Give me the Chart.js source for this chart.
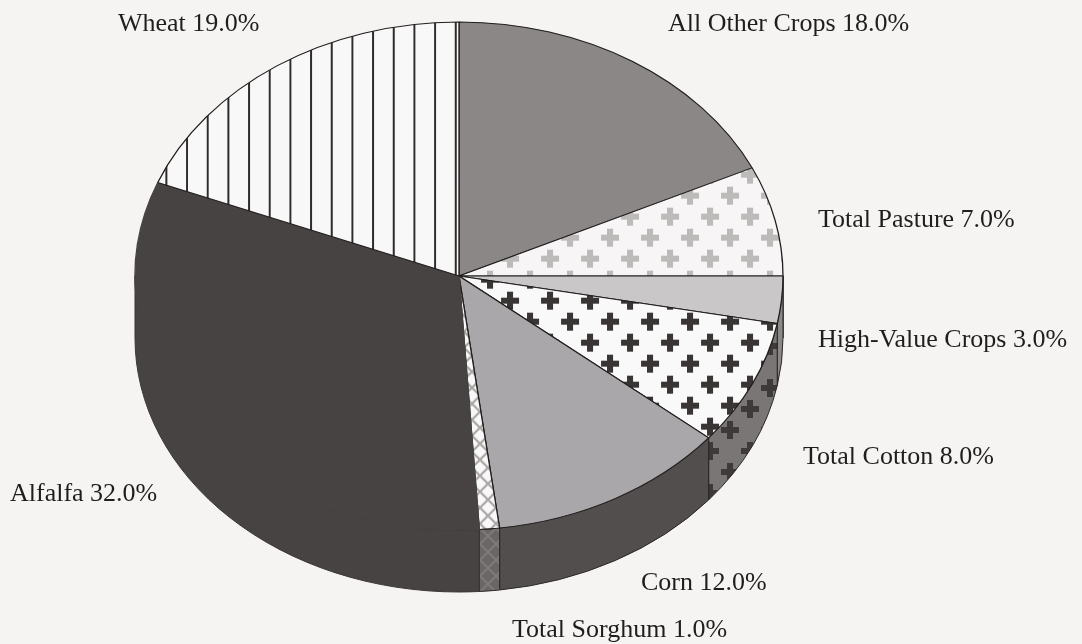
<!DOCTYPE html>
<html>
<head>
<meta charset="utf-8">
<script src="https://cdn.jsdelivr.net/npm/chart.js@4.4.1/dist/chart.umd.min.js"></script>
<style>
  html, body { margin: 0; padding: 0; background: #f6f4f3; }
  #wrap { width: 1082px; height: 644px; }
</style>
</head>
<body>
<div id="wrap"><canvas id="chart" width="1082" height="644"></canvas></div>
<script>
// crop shares, clockwise from 12 o'clock
const categories = ["All Other Crops", "Total Pasture", "High-Value Crops", "Total Cotton", "Corn", "Total Sorghum", "Alfalfa", "Wheat"];
const shares = [18.0, 7.0, 3.0, 8.0, 12.0, 1.0, 32.0, 19.0];

// where each label sits: left edge, middle of the text
const labelAt = [[668, 24], [818, 220], [818, 340], [803, 457], [641, 583], [512, 630], [10, 494], [118, 24]];

const squash = 254 / 324; // the pie is a circle, flattened into an ellipse
const depth = 62;         // height of the 3d rim

const canvas = document.getElementById("chart");
const ctx = canvas.getContext("2d");

function tile(w, h, paint) {
  const c = document.createElement("canvas");
  c.width = w;
  c.height = h;
  paint(c.getContext("2d"), w, h);
  return c;
}

function crosses(bg, fg) {
  return tile(40, 42, (g, w, h) => {
    g.fillStyle = bg;
    g.fillRect(0, 0, w, h);
    g.fillStyle = fg;
    [[10, 10], [30, 31]].forEach(([x, y]) => {
      g.fillRect(x - 9, y - 3, 18, 6);
      g.fillRect(x - 3, y - 9, 6, 18);
    });
  });
}

function stripes(bg, fg) {
  return tile(21, 8, (g, w, h) => {
    g.fillStyle = bg;
    g.fillRect(0, 0, w, h);
    g.fillStyle = fg;
    g.fillRect(0, 0, 2, h);
  });
}

function lattice(bg, fg) {
  return tile(16, 16, (g, w, h) => {
    g.fillStyle = bg;
    g.fillRect(0, 0, w, h);
    g.strokeStyle = fg;
    g.lineWidth = 2.2;
    g.beginPath();
    g.moveTo(-2, -2); g.lineTo(18, 18);
    g.moveTo(18, -2); g.lineTo(-2, 18);
    g.stroke();
  });
}

// top face is drawn inside a squashed transform, so undo it on the patterns
function pat(c, sx) {
  const p = ctx.createPattern(c, "repeat");
  p.setTransform(new DOMMatrix([sx || 1, 0, 0, 1 / squash, 0, 0]));
  return p;
}
function sidePat(c) {
  return ctx.createPattern(c, "repeat");
}

const dark = "#474343";

const topFill = [
  "#8b8787",
  pat(crosses("#f7f5f5", "#bdbaba")),
  "#c9c7c7",
  pat(crosses("#faf9f9", "#393535")),
  "#a9a7a9",
  pat(lattice("#f9f8f8", "#aaa6a6")),
  dark,
  pat(stripes("#f9f8f8", "#2f2b2b"), 20.67 / 21),
];

// alfalfa has no visible edge against its own rim
const edges = ["#221e1e", "#221e1e", "#221e1e", "#221e1e", "#221e1e", "#221e1e", dark, "#221e1e"];

const sideFill = [
  "#5f5b5b",
  "#8a8787",
  "#8a8888",
  sidePat(crosses("#7a7676", "#3e3a3a")),
  "#524e4e",
  sidePat(lattice("#6a6666", "#7e7a7a")),
  dark,
  "#555",
];

const pie3d = {
  id: "pie3d",
  beforeDatasetsDraw(chart) {
    const c = chart.ctx;
    const arcs = chart.getDatasetMeta(0).data;
    // the rim: front half of each slice, pushed down
    c.save();
    c.lineWidth = 1;
    arcs.forEach((arc, i) => {
      const { x, y, startAngle, endAngle, outerRadius } =
        arc.getProps(["x", "y", "startAngle", "endAngle", "outerRadius"]);
      const a = Math.max(startAngle, 0);
      const b = Math.min(endAngle, Math.PI);
      if (a >= b) return;
      const ry = outerRadius * squash;
      c.beginPath();
      c.ellipse(x, y, outerRadius, ry, 0, a, b);
      c.ellipse(x, y + depth, outerRadius, ry, 0, b, a, true);
      c.closePath();
      c.fillStyle = sideFill[i];
      c.strokeStyle = i === 6 ? "#3a3636" : "#2a2626";
      c.fill();
      c.stroke();
    });
    c.restore();

    // flatten the top face
    const cy = arcs[0].y;
    c.save();
    c.translate(0, cy);
    c.scale(1, squash);
    c.translate(0, -cy);
  },
  afterDatasetsDraw(chart) {
    chart.ctx.restore();
  },
  afterDraw(chart) {
    const c = chart.ctx;
    c.save();
    c.font = "26px 'Liberation Serif', 'Times New Roman', serif";
    c.fillStyle = "#211d1d";
    c.textBaseline = "middle";
    c.textAlign = "left";
    categories.forEach((name, i) => {
      c.fillText(name + " " + shares[i].toFixed(1) + "%", labelAt[i][0], labelAt[i][1]);
    });
    c.restore();
  },
};

new Chart(canvas, {
  type: "pie",
  data: {
    labels: categories,
    datasets: [{
      data: shares,
      backgroundColor: topFill,
      borderColor: edges,
      borderWidth: 1.3,
    }],
  },
  options: {
    responsive: false,
    animation: false,
    events: [],
    radius: 324,
    layout: { padding: { left: 0, right: 164, top: 0, bottom: 92 } },
    plugins: { legend: { display: false }, tooltip: { enabled: false } },
  },
  plugins: [pie3d],
});
</script>
</body>
</html>
